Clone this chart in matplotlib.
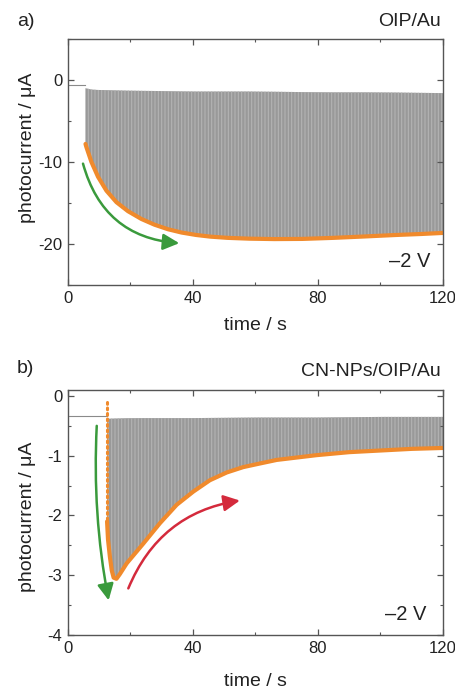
import matplotlib
matplotlib.use("Agg")
import matplotlib.pyplot as plt
import numpy as np
from matplotlib.ticker import MultipleLocator

plt.rcParams['font.family'] = ['Liberation Sans', 'DejaVu Sans']
plt.rcParams['axes.unicode_minus'] = False
plt.rcParams['hatch.linewidth'] = 0.8

# ---------------- data ----------------
# panel a: OIP/Au
a_base_t = [0.0, 5.6]
a_base_i = [-0.6, -0.6]
a_top_t = [5.6, 8, 20, 40, 60, 80, 100, 120]
a_top_i = [-1.0, -1.2, -1.3, -1.4, -1.4, -1.5, -1.5, -1.6]
a_env_t = [5.6, 5.9, 7.5, 9.6, 12.3, 15.5, 19.2, 23.5, 27.7, 32, 36.3, 41,
           45.5, 51, 58, 66, 75, 85, 95, 105, 113, 120]
a_env_i = [-7.8, -8.2, -10.0, -11.8, -13.5, -14.9, -16.0, -16.95, -17.65,
           -18.2, -18.6, -18.9, -19.1, -19.25, -19.35, -19.4, -19.38, -19.25,
           -19.08, -18.9, -18.78, -18.65]
a_arrow_start = (4.8, -10.2)
a_arrow_end = (35.6, -19.9)

# panel b: CN-NPs/OIP/Au
b_base_t = [0.0, 12.5]
b_base_i = [-0.33, -0.33]
b_dot_t = [12.5, 12.5]
b_dot_i = [-0.1, -2.1]
b_top_t = [12.5, 20, 40, 60, 80, 100, 120]
b_top_i = [-0.38, -0.37, -0.37, -0.36, -0.36, -0.35, -0.35]
b_env_t = [12.5, 12.8, 13.4, 14.0, 14.6, 15.5, 16.6, 18.8, 24.1, 29.4, 34.8,
           40.1, 45.4, 50.8, 56.1, 61.4, 66.8, 73.2, 79.6, 90.0, 100.9, 110.0,
           120.0]
b_env_i = [-2.10, -2.40, -2.69, -2.92, -3.04, -3.06, -2.98, -2.80, -2.47,
           -2.13, -1.82, -1.60, -1.41, -1.28, -1.19, -1.13, -1.07, -1.03,
           -0.99, -0.94, -0.91, -0.885, -0.87]
b_green_start = (9.2, -0.5)
b_green_end = (13.0, -3.42)
b_red_start = (19.3, -3.22)
b_red_end = (55.0, -1.75)

x_ticks = [0, 40, 80, 120]
a_y_ticks = [0, -10, -20]
b_y_ticks = [0, -1, -2, -3, -4]

ORANGE = '#f08a2c'
GREEN = '#3a9a3c'
RED = '#d42a3c'
FILL = '#999999'
STRIPE = '#b3b3b3'
SPINE = '#555555'

W, H = 456, 693
fig = plt.figure(figsize=(W / 100, H / 100), dpi=100)


def px_rect(l, t, r, b):
    return [l / W, 1 - b / H, (r - l) / W, (b - t) / H]


ax_a = fig.add_axes(px_rect(68, 39, 443, 285))
ax_b = fig.add_axes(px_rect(68, 390, 443, 635))


def style(ax, ymaj, ymin):
    ax.set_xlim(0, 120)
    ax.set_xticks(x_ticks)
    ax.xaxis.set_minor_locator(MultipleLocator(20))
    ax.yaxis.set_major_locator(MultipleLocator(ymaj))
    ax.yaxis.set_minor_locator(MultipleLocator(ymin))
    for s in ax.spines.values():
        s.set_color(SPINE)
        s.set_linewidth(1.0)
    ax.tick_params(which='both', direction='in', top=True, right=True,
                   color=SPINE, labelsize=12, labelcolor='#222222')
    ax.tick_params(which='major', length=4, width=0.9, pad=4)
    ax.tick_params(which='minor', length=2.5, width=0.8)


def arrow(ax, start, end, color, rad):
    ax.annotate('', xy=end, xytext=start,
                arrowprops=dict(arrowstyle='-|>,head_length=0.7,head_width=0.35',
                                color=color, lw=1.8, mutation_scale=14,
                                connectionstyle=f'arc3,rad={rad}',
                                shrinkA=0, shrinkB=0))


# panel a
style(ax_a, 10, 5)
ax_a.set_ylim(-25, 5)
ax_a.set_yticks(a_y_ticks)
ax_a.plot(a_base_t, a_base_i, color='#8a8a8a', lw=0.8)
ax_a.fill_between(a_env_t, a_env_i, np.interp(a_env_t, a_top_t, a_top_i),
                  facecolor=FILL, edgecolor=STRIPE, hatch='|||||', lw=0)
ax_a.plot(a_env_t, a_env_i, color=ORANGE, lw=3, solid_capstyle='round',
          solid_joinstyle='round')
arrow(ax_a, a_arrow_start, a_arrow_end, GREEN, 0.35)

# panel b
style(ax_b, 1, 0.5)
ax_b.set_ylim(-4, 0.1)
ax_b.set_yticks(b_y_ticks)
ax_b.plot(b_base_t, b_base_i, color='#8a8a8a', lw=0.8)
ax_b.fill_between(b_env_t, b_env_i, np.interp(b_env_t, b_top_t, b_top_i),
                  facecolor=FILL, edgecolor=STRIPE, hatch='|||||', lw=0)
ax_b.plot(b_dot_t, b_dot_i, color=ORANGE, lw=2.2, ls=(0, (0.6, 1.2)),
          dash_capstyle='round')
ax_b.plot(b_env_t, b_env_i, color=ORANGE, lw=3, solid_capstyle='round',
          solid_joinstyle='round')
arrow(ax_b, b_green_start, b_green_end, GREEN, 0.06)
arrow(ax_b, b_red_start, b_red_end, RED, -0.28)


def ftext(x, y, s, **kw):
    fig.text(x / W, 1 - y / H, s, **kw)


TXT = '#222222'
ftext(17, 22, 'a)', fontsize=14, ha='left', va='center', color=TXT)
ftext(441, 22, 'OIP/Au', fontsize=14, ha='right', va='center', color=TXT)
ftext(17, 369, 'b)', fontsize=14, ha='left', va='center', color=TXT)
ftext(441, 371, 'CN-NPs/OIP/Au', fontsize=14, ha='right', va='center', color=TXT)
ftext(28, 148, 'photocurrent / μA', fontsize=14, rotation=90, ha='center',
      va='center', color=TXT)
ftext(28, 517, 'photocurrent / μA', fontsize=14, rotation=90, ha='center',
      va='center', color=TXT)
ftext(255, 325, 'time / s', fontsize=14, ha='center', va='center', color=TXT)
ftext(255, 682, 'time / s', fontsize=14, ha='center', va='center', color=TXT)
ftext(410, 262, '–2 V', fontsize=14.5, ha='center', va='center', color=TXT)
ftext(406, 615, '–2 V', fontsize=14.5, ha='center', va='center', color=TXT)

fig.savefig('out.png', dpi=100)
